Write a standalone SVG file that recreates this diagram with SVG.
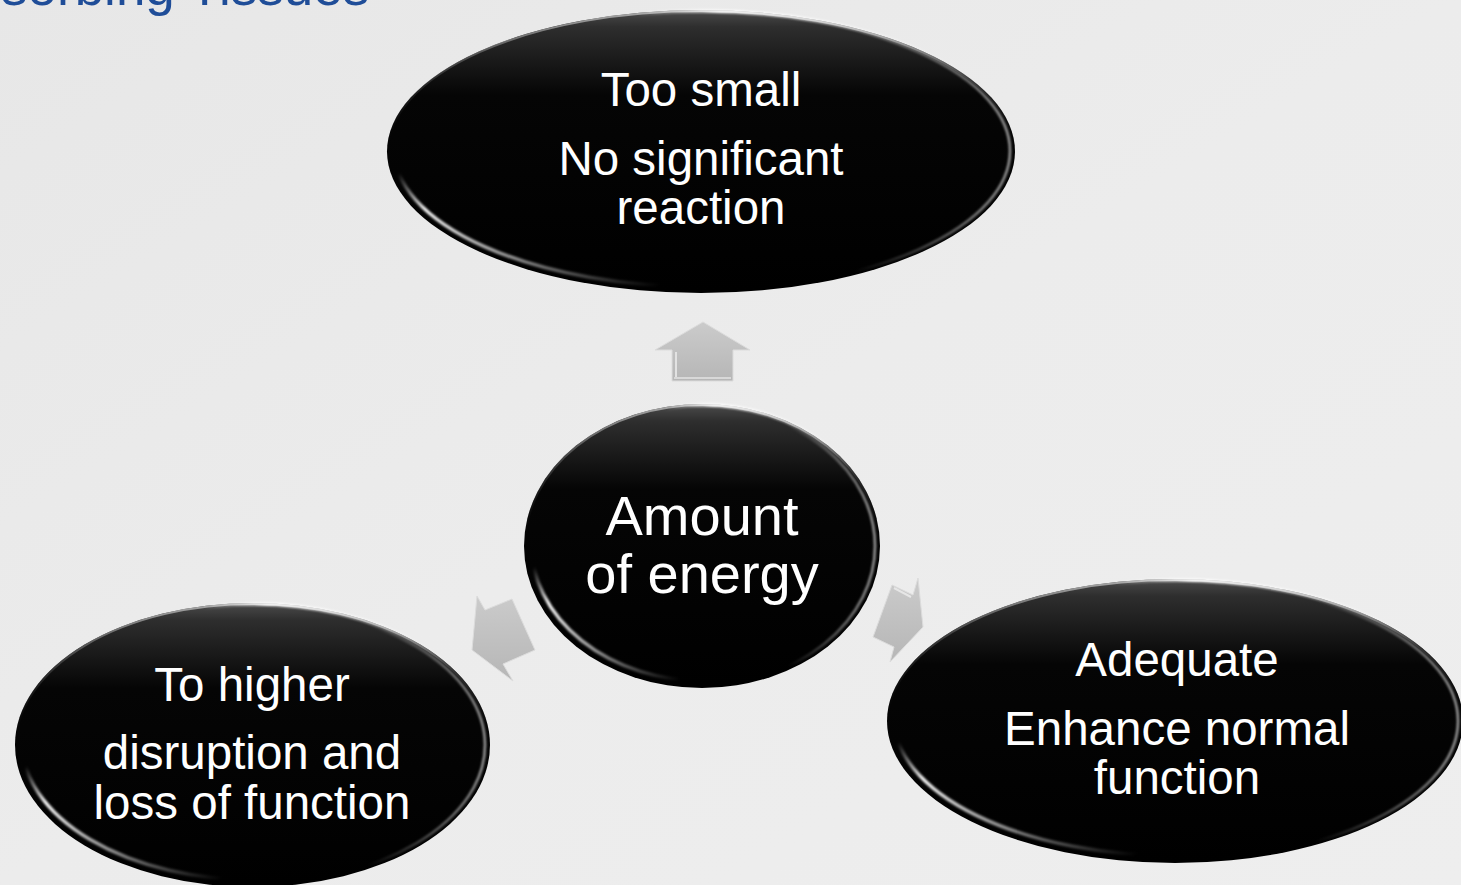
<svg xmlns="http://www.w3.org/2000/svg" width="1461" height="885" viewBox="0 0 1461 885">
  <style>
    .label { font-family: "Liberation Sans", Arial, Helvetica, sans-serif; fill: #ffffff; text-anchor: middle; }
    .body { font-size: 47.5px; }
    .big { font-size: 56px; }
    .title { font-family: "Liberation Sans", Arial, Helvetica, sans-serif; font-size: 53px; fill: #1f4d98; }
    .blob { fill: url(#blobShade); }
    .rim { fill: none; stroke: url(#rimTop); stroke-width: 2; }
    .gloss { fill: none; stroke: url(#glossLowLeft); stroke-width: 3.5; filter: url(#soft); }
    .gloss2 { fill: none; stroke: url(#glossRight); stroke-width: 2.5; filter: url(#soft); }
    .arrow { fill: url(#arrowFill); stroke: #dcdcdc; stroke-width: 1; stroke-linejoin: round; }
  </style>
  <defs>
    <linearGradient id="bg" x1="0" y1="0" x2="1" y2="1">
      <stop offset="0" stop-color="#e7e7e7"/>
      <stop offset="0.5" stop-color="#ececec"/>
      <stop offset="1" stop-color="#eeeeee"/>
    </linearGradient>
    <linearGradient id="blobShade" x1="0" y1="0" x2="0" y2="1">
      <stop offset="0" stop-color="#4c4c4c"/>
      <stop offset="0.06" stop-color="#2e2e2e"/>
      <stop offset="0.3" stop-color="#050505"/>
      <stop offset="1" stop-color="#000000"/>
    </linearGradient>
    <linearGradient id="rimTop" x1="0" y1="0" x2="0" y2="1">
      <stop offset="0" stop-color="#a8a8a8"/>
      <stop offset="0.2" stop-color="#5a5a5a" stop-opacity="0.6"/>
      <stop offset="0.5" stop-color="#000000" stop-opacity="0"/>
    </linearGradient>
    <linearGradient id="glossLowLeft" x1="0" y1="0.6" x2="0.6" y2="1">
      <stop offset="0" stop-color="#ffffff" stop-opacity="0"/>
      <stop offset="0.15" stop-color="#ffffff" stop-opacity="0.95"/>
      <stop offset="0.45" stop-color="#ffffff" stop-opacity="0.55"/>
      <stop offset="0.8" stop-color="#ffffff" stop-opacity="0"/>
    </linearGradient>
    <linearGradient id="glossRight" x1="0.75" y1="0" x2="1" y2="0">
      <stop offset="0" stop-color="#bfbfbf" stop-opacity="0"/>
      <stop offset="1" stop-color="#bfbfbf" stop-opacity="0.8"/>
    </linearGradient>
    <linearGradient id="arrowFill" x1="0" y1="0" x2="0" y2="1">
      <stop offset="0" stop-color="#cbcbcb"/>
      <stop offset="1" stop-color="#b6b6b6"/>
    </linearGradient>
    <filter id="soft" x="-5%" y="-5%" width="110%" height="110%">
      <feGaussianBlur stdDeviation="0.9"/>
    </filter>
  </defs>

  <!-- backdrop -->
  <rect x="0" y="0" width="1461" height="885" fill="url(#bg)"/>

  <!-- slide heading, clipped at the top edge -->
  <text class="title" x="1" y="5">sorbing Tissues</text>

  <!-- block arrows radiating from the centre -->
  <g id="connectors">
    <polygon class="arrow" points="703,322 750,350 733,350 733,381 672,381 672,350 655,350"/>
    <line x1="676" y1="352" x2="676" y2="378" stroke="#e2e2e2" stroke-width="2"/>
    <line x1="674" y1="378" x2="731" y2="378" stroke="#d8d8d8" stroke-width="2"/>
    <polygon class="arrow" points="477,596 485,610 512,599 535,650 503,664 513,681 472,650"/>
    <polygon class="arrow" points="892,585 913,595 918,578 923,627 890,662 894,647 873,637"/>
    <line x1="894" y1="588" x2="911" y2="597" stroke="#e6e6e6" stroke-width="2"/>
  </g>

  <!-- outcome: too small -->
  <g id="node-too-small">
    <ellipse class="blob" cx="701" cy="151.5" rx="314" ry="141.5"/>
    <ellipse class="rim" cx="701" cy="151.5" rx="313" ry="140.5"/>
    <ellipse class="gloss" cx="703" cy="149" rx="309" ry="138"/>
    <ellipse class="gloss2" cx="699" cy="151" rx="311" ry="139"/>
    <text class="label body" x="701" y="106">Too small</text>
    <text class="label body" x="701" y="175">No significant</text>
    <text class="label body" x="701" y="224">reaction</text>
  </g>

  <!-- centre: amount of energy -->
  <g id="node-energy">
    <ellipse class="blob" cx="702" cy="546" rx="178" ry="142"/>
    <ellipse class="rim" cx="702" cy="546" rx="177" ry="141"/>
    <ellipse class="gloss" cx="704" cy="543" rx="173" ry="138"/>
    <ellipse class="gloss2" cx="700" cy="546" rx="175" ry="139"/>
    <text class="label big" x="702" y="535">Amount</text>
    <text class="label big" x="702" y="593">of energy</text>
  </g>

  <!-- outcome: too high -->
  <g id="node-too-high">
    <ellipse class="blob" cx="252.5" cy="745" rx="237.5" ry="142"/>
    <ellipse class="rim" cx="252.5" cy="745" rx="236.5" ry="141"/>
    <ellipse class="gloss" cx="254.5" cy="742" rx="232.5" ry="138"/>
    <ellipse class="gloss2" cx="250.5" cy="745" rx="234.5" ry="139"/>
    <text class="label body" x="252" y="701">To higher</text>
    <text class="label body" x="252" y="769">disruption and</text>
    <text class="label body" x="252" y="819">loss of function</text>
  </g>

  <!-- outcome: adequate -->
  <g id="node-adequate">
    <ellipse class="blob" cx="1175" cy="721" rx="288" ry="142"/>
    <ellipse class="rim" cx="1175" cy="721" rx="287" ry="141"/>
    <ellipse class="gloss" cx="1177" cy="718" rx="283" ry="138"/>
    <ellipse class="gloss2" cx="1173" cy="721" rx="285" ry="139"/>
    <text class="label body" x="1177" y="676">Adequate</text>
    <text class="label body" x="1177" y="745">Enhance normal</text>
    <text class="label body" x="1177" y="794">function</text>
  </g>
</svg>
